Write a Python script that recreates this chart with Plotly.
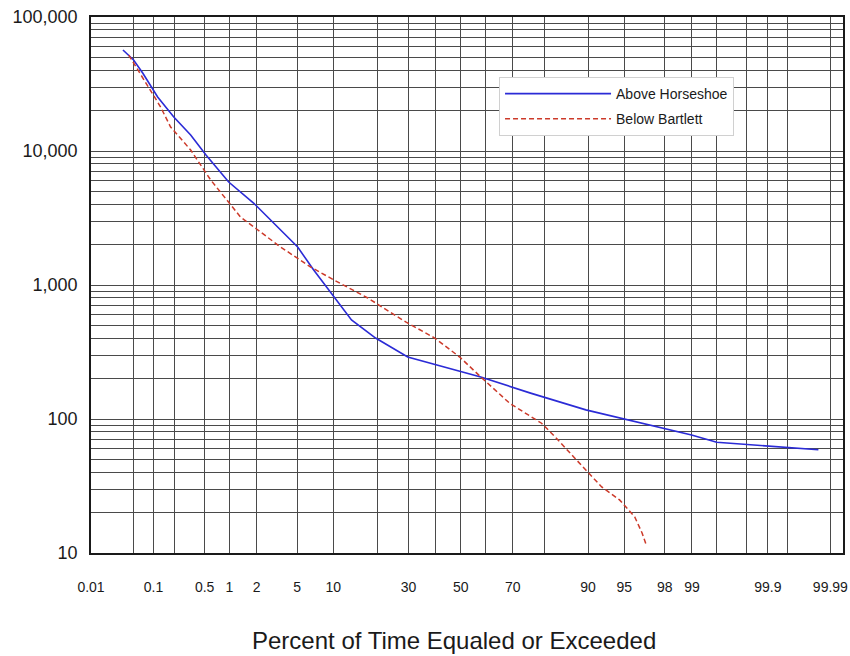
from statistics import NormalDist
import plotly.graph_objects as go

# ---- data (percent of time equaled or exceeded, flow) ----
above_pct = [0.034, 0.05, 0.069, 0.115, 0.195, 0.33, 0.52, 0.98, 1.86, 3.5, 5.05, 6.96,
             10.1, 13.6, 19.6, 29.7, 58, 75.9, 89.6, 96.25, 98.99, 99.5, 99.936, 99.984]
above_flow = [56750, 47750, 38200, 25300, 17950, 13160, 9330, 5870, 4090, 2570, 1920, 1294,
              813, 548, 402, 290, 206, 156, 117, 95, 76, 67, 62, 59]

below_pct = [0.042, 0.091, 0.127, 0.176, 0.33, 0.595, 0.98, 1.34, 2.0, 3.5, 6.57, 10.1,
             17.5, 29, 39.7, 49.6, 58, 68.9, 79.2, 83.0, 89.6, 92.2, 94.5, 96.0, 96.6, 96.9]
below_flow = [52000, 28500, 21300, 15100, 10170, 6080, 4090, 3215, 2618, 1920, 1362, 1090,
              800, 530, 402, 290, 206, 131, 93, 73, 41.6, 31.1, 24.9, 18.6, 14.1, 11.5]

x_tick_pct = [0.01, 0.1, 0.5, 1, 2, 5, 10, 30, 50, 70, 90, 95, 98, 99, 99.9, 99.99]
x_tick_text = ["0.01", "0.1", "0.5", "1", "2", "5", "10", "30", "50", "70",
               "90", "95", "98", "99", "99.9", "99.99"]
x_grid_pct = [0.05, 0.1, 0.2, 0.5, 1, 2, 5, 10, 20, 30, 40, 50, 60, 70, 80, 90,
              95, 98, 99, 99.5, 99.8, 99.9, 99.95, 99.99]
y_tick_vals = [10, 100, 1000, 10000, 100000]
y_tick_text = ["10", "100", "1,000", "10,000", "100,000"]

series_names = ["Above Horseshoe", "Below Bartlett"]

nd = NormalDist()


def z(p):
    return nd.inv_cdf(p / 100.0)


FONT = "Liberation Sans, Arial, sans-serif"
GRID = "#4a4a4a"

fig = go.Figure()
fig.add_trace(go.Scatter(
    x=[z(p) for p in above_pct], y=above_flow, mode="lines", name=series_names[0],
    line=dict(color="#2b2bd6", width=1.6), legendgroup="a",
))
fig.add_trace(go.Scatter(
    x=[z(p) for p in below_pct], y=below_flow, mode="lines", name=series_names[1],
    line=dict(color="#cc3a2a", width=1.5, dash="5px,3px"), legendgroup="b",
))

fig.update_layout(
    width=850, height=656,
    margin=dict(l=91, r=7, t=17, b=103, autoexpand=False),
    paper_bgcolor="white", plot_bgcolor="white",
    font=dict(family=FONT, color="#1a1a1a"),
    showlegend=True,
    legend=dict(
        x=0.5426, y=0.888, xanchor="left", yanchor="top",
        bgcolor="white", bordercolor="#d0d0d0", borderwidth=1,
        font=dict(size=14, family=FONT, color="#1a1a1a"),
        itemwidth=106, tracegroupgap=4,
    ),
    xaxis=dict(
        range=[z(0.01), z(99.994)], automargin=False,
        tickmode="array", tickvals=[z(p) for p in x_tick_pct], ticktext=x_tick_text,
        showgrid=False, zeroline=False,
        ticks="", ticklabelstandoff=20, ticklabeloverflow="allow",
        tickfont=dict(size=14, family=FONT, color="#1a1a1a"),
        showline=True, mirror=True, linecolor="#1a1a1a", linewidth=1.6,
        minor=dict(tickmode="array", tickvals=[z(p) for p in x_grid_pct],
                   showgrid=True, gridcolor=GRID, gridwidth=1, ticks=""),
    ),
    yaxis=dict(
        type="log", range=[1, 5], automargin=False,
        tickmode="array", tickvals=y_tick_vals, ticktext=y_tick_text,
        showgrid=True, gridcolor=GRID, gridwidth=1, zeroline=False,
        ticks="", ticklabelstandoff=8, ticklabeloverflow="allow",
        tickfont=dict(size=18, family=FONT, color="#1a1a1a"),
        showline=True, mirror=True, linecolor="#1a1a1a", linewidth=1.6,
        minor=dict(dtick="D1", showgrid=True, gridcolor=GRID, gridwidth=1, ticks=""),
    ),
    annotations=[dict(
        text="Percent of Time Equaled or Exceeded", xref="paper", yref="paper",
        x=0.4827, y=-0.163, xanchor="center", yanchor="middle", showarrow=False,
        font=dict(size=24, family=FONT, color="#1a1a1a"),
    )],
)

fig.write_html(
    "out.html",
    config={"displayModeBar": False},
    post_script="document.body.style.margin='0px';document.body.style.overflow='hidden';",
)
